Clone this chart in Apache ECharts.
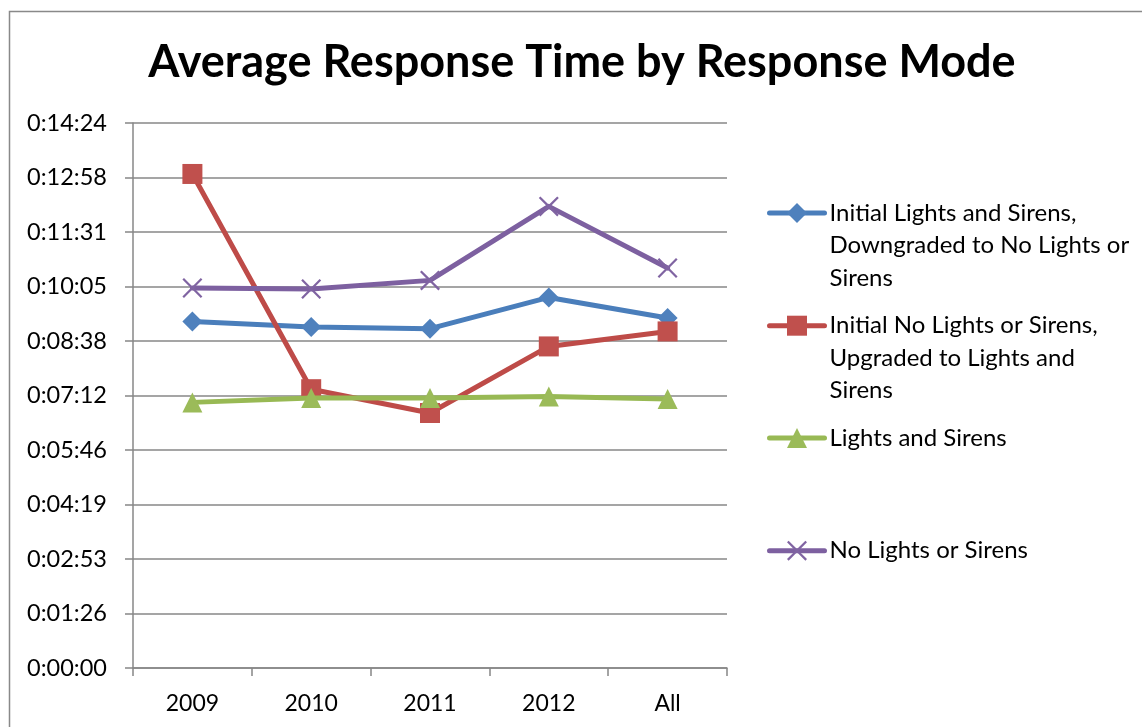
<!DOCTYPE html>
<html>
<head>
<meta charset="utf-8">
<script src="https://cdn.jsdelivr.net/npm/echarts@6/dist/echarts.min.js"></script>
<style>
  html, body { margin: 0; padding: 0; background: #fff; }
  #chart { width: 1142px; height: 727px; }
</style>
</head>
<body>
<div id="chart"></div>
<script>
// ---- Data (values in seconds) ----
const categories = ['2009', '2010', '2011', '2012', 'All'];
const seriesNames = [
  'Initial Lights and Sirens, Downgraded to No Lights or Sirens',
  'Initial No Lights or Sirens, Upgraded to Lights and Sirens',
  'Lights and Sirens',
  'No Lights or Sirens'
];
const legendLabels = [
  'Initial Lights and Sirens,\nDowngraded to No Lights or\nSirens',
  'Initial No Lights or Sirens,\nUpgraded to Lights and\nSirens',
  'Lights and Sirens',
  'No Lights or Sirens'
];
const downgradedValues = [549.5, 540.6, 537.9, 587.5, 554.9];
const upgradedValues   = [783.2, 442.0, 404.3, 509.8, 533.6];
const lightsSirensValues = [421.1, 428.0, 428.0, 430.6, 426.5];
const noLightsValues   = [602.4, 600.8, 614.5, 731.8, 634.1];
const yTickLabels = ['0:00:00', '0:01:26', '0:02:53', '0:04:19', '0:05:46', '0:07:12',
                     '0:08:38', '0:10:05', '0:11:31', '0:12:58', '0:14:24'];
const yInterval = 86.4;

// ---- Styling ----
const FONT = 'Lato';
const colors = ['#4A7EBB', '#BE4B48', '#98B954', '#7D60A0'];
const markerColors = ['#4F81BD', '#C0504D', '#9BBB59', '#8064A2'];
const xSymbol = 'path://M0,1.6L1.6,0L10,8.4L18.4,0L20,1.6L11.6,10L20,18.4L18.4,20L10,11.6L1.6,20L0,18.4L8.4,10Z';
const symbols = ['diamond', 'rect', 'triangle', xSymbol];
const symbolSizes = [20, 20, 20, 20];
const dataSets = [downgradedValues, upgradedValues, lightsSirensValues, noLightsValues];

const chart = echarts.init(document.getElementById('chart'), null, { renderer: 'canvas' });

const LH = 32.5;
// first-line centres of legend entries
const legendCenters = [213, 325.7, 438, 550.7];

const legends = seriesNames.map((name, i) => {
  const lines = legendLabels[i].split('\n').length;
  // prepend blank lines so the icon (centred on the text block) sits on the first line
  const pad = lines - 1;
  const label = '\n'.repeat(pad) + legendLabels[i];
  const totalLines = lines + pad;
  return {
    show: true,
    orient: 'vertical',
    left: 767,
    top: legendCenters[i] - totalLines * LH / 2,
    padding: 0,
    itemWidth: 55,
    itemHeight: 25,
    data: [name],
    selectedMode: false,
    formatter: () => label,
    lineStyle: { width: 5, cap: 'round' },
    textStyle: {
      fontFamily: FONT,
      fontSize: 24,
      color: '#000',
      lineHeight: LH
    }
  };
});

const option = {
  animation: false,
  backgroundColor: '#fff',
  title: {
    text: 'Average Response Time by Response Mode',
    left: 582,
    top: 40,
    padding: 0,
    textAlign: 'center',
    textStyle: { fontFamily: FONT, fontWeight: 'bold', fontSize: 45, color: '#000' }
  },
  graphic: [{
    type: 'rect',
    silent: true,
    shape: { x: 9.5, y: 11.5, width: 1300, height: 900 },
    style: { fill: 'none', stroke: '#898989', lineWidth: 1.5 }
  }],
  legend: legends,
  grid: { left: 133, right: 415, top: 123, bottom: 59, containLabel: false },
  xAxis: {
    type: 'category',
    data: categories,
    boundaryGap: true,
    axisLine: { show: true, lineStyle: { color: '#878787', width: 1.5 } },
    axisTick: { show: true, length: 8, inside: false, alignWithLabel: false, lineStyle: { color: '#878787', width: 1.5 } },
    axisLabel: { margin: 24, fontFamily: FONT, fontSize: 23, color: '#000' },
    splitLine: { show: false }
  },
  yAxis: {
    type: 'value',
    min: 0,
    max: 864,
    interval: yInterval,
    axisLine: { show: true, lineStyle: { color: '#878787', width: 1.5 } },
    axisTick: { show: true, length: 8, lineStyle: { color: '#878787', width: 1.5 } },
    axisLabel: {
      margin: 26,
      fontFamily: FONT,
      fontSize: 23.5,
      color: '#000',
      formatter: (v) => yTickLabels[Math.round(v / yInterval)]
    },
    splitLine: { show: true, lineStyle: { color: '#878787', width: 1.5 } }
  },
  series: seriesNames.map((name, i) => ({
    name: name,
    type: 'line',
    data: dataSets[i],
    symbol: symbols[i],
    symbolSize: symbolSizes[i],
    showAllSymbol: true,
    lineStyle: { color: colors[i], width: 5, cap: 'round', join: 'round' },
    itemStyle: { color: markerColors[i], borderWidth: 0 },
    emphasis: { disabled: true },
    z: 2 + i
  }))
};

chart.setOption(option);
</script>
</body>
</html>
